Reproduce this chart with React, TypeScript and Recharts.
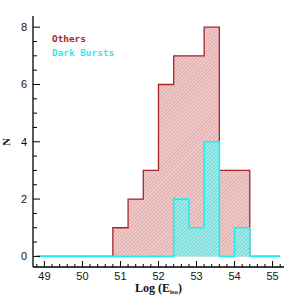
import React from 'react';
import { ComposedChart, Area, XAxis, YAxis } from 'recharts';

// histogram bin edges (log E_iso) and counts per bin starting at that edge
const binEdges = [48.8, 49.2, 49.6, 50.0, 50.4, 50.8, 51.2, 51.6, 52.0, 52.4, 52.8, 53.2, 53.6, 54.0, 54.4, 54.8, 55.2];
const othersCounts = [0, 0, 0, 0, 0, 1, 2, 3, 6, 7, 7, 8, 3, 3, 0, 0, 0];
const darkCounts = [0, 0, 0, 0, 0, 0, 0, 0, 0, 2, 1, 4, 0, 1, 0, 0, 0];

const xMajor = [49, 50, 51, 52, 53, 54, 55];
const yMajor = [0, 2, 4, 6, 8];

const X_DOMAIN: [number, number] = [48.7, 55.3];
const Y_DOMAIN: [number, number] = [-0.37, 8.39];

const RED = '#a82626';
const CYAN = '#1fefef';

const data = binEdges.map((x, i) => ({ x, others: othersCounts[i], dark: darkCounts[i] }));

// minor ticks: every 0.2 in x, every 0.5 in y
const xTicks: number[] = [];
for (let i = 0; i <= 32; i++) xTicks.push(Math.round((48.8 + i * 0.2) * 10) / 10);
const yTicks: number[] = [];
for (let i = 0; i <= 16; i++) yTicks.push(i * 0.5);

const isMajor = (v: number, list: number[]) => list.some((m) => Math.abs(m - v) < 1e-6);

const labelFont = { fontFamily: '"Liberation Sans", Arial, sans-serif', fontSize: 11, fill: '#111' };

const BottomTick = ({ x, y, payload }: any) => {
  const major = isMajor(payload.value, xMajor);
  return (
    <g>
      <line x1={x} x2={x} y1={y} y2={y - (major ? 6 : 3)} stroke="#000" strokeWidth={1} />
      {major && (
        <text x={x} y={y + 13} textAnchor="middle" {...labelFont}>
          {Math.round(payload.value)}
        </text>
      )}
    </g>
  );
};

const TopTick = ({ x, y, payload }: any) => {
  const major = isMajor(payload.value, xMajor);
  return <line x1={x} x2={x} y1={y} y2={y + (major ? 6 : 3)} stroke="#000" strokeWidth={1} />;
};

const LeftTick = ({ x, y, payload }: any) => {
  const major = isMajor(payload.value, yMajor);
  return (
    <g>
      <line x1={x} x2={x + (major ? 7 : 4)} y1={y} y2={y} stroke="#000" strokeWidth={1} />
      {major && (
        <text x={x - 6} y={y + 4} textAnchor="end" {...labelFont}>
          {Math.round(payload.value)}
        </text>
      )}
    </g>
  );
};

const RightTick = ({ x, y, payload }: any) => {
  const major = isMajor(payload.value, yMajor);
  return <line x1={x} x2={x - (major ? 7 : 4)} y1={y} y2={y} stroke="#000" strokeWidth={1} />;
};

const axisLine = { stroke: '#000', strokeWidth: 1.3 };

export default function App() {
  return (
    <div style={{ position: 'absolute', left: 0, top: 0, width: 300, height: 300, background: '#fff' }}>
      <ComposedChart width={300} height={300} data={data} margin={{ top: 16, right: 16, bottom: 0, left: 0 }}>
        <defs>
          <pattern id="hatchRed" width="2.6" height="2.6" patternUnits="userSpaceOnUse" patternTransform="rotate(45)">
            <rect width="2.6" height="2.6" fill="#f0cccc" />
            <line x1="0" y1="0" x2="0" y2="2.6" stroke="#d29090" strokeWidth="1.1" />
          </pattern>
          <pattern id="hatchCyan" width="2.6" height="2.6" patternUnits="userSpaceOnUse" patternTransform="rotate(45)">
            <rect width="2.6" height="2.6" fill="#a4eded" />
            <line x1="0" y1="0" x2="0" y2="2.6" stroke="#55c2c2" strokeWidth="1.1" />
          </pattern>
        </defs>
        <XAxis
          dataKey="x"
          type="number"
          domain={X_DOMAIN}
          ticks={xTicks}
          interval={0}
          height={33}
          tickSize={0}
          tickMargin={0}
          tickLine={false}
          axisLine={axisLine}
          tick={<BottomTick />}
          allowDataOverflow
        />
        <XAxis
          xAxisId="top"
          dataKey="x"
          type="number"
          orientation="top"
          domain={X_DOMAIN}
          ticks={xTicks}
          interval={0}
          height={0}
          tickSize={0}
          tickMargin={0}
          tickLine={false}
          axisLine={axisLine}
          tick={<TopTick />}
          allowDataOverflow
        />
        <YAxis
          type="number"
          domain={Y_DOMAIN}
          ticks={yTicks}
          interval={0}
          width={33}
          tickSize={0}
          tickMargin={0}
          tickLine={false}
          axisLine={axisLine}
          tick={<LeftTick />}
          allowDataOverflow
        />
        <YAxis
          yAxisId="right"
          type="number"
          orientation="right"
          domain={Y_DOMAIN}
          ticks={yTicks}
          interval={0}
          width={0}
          tickSize={0}
          tickMargin={0}
          tickLine={false}
          axisLine={axisLine}
          tick={<RightTick />}
          allowDataOverflow
        />
        <Area
          type="stepAfter"
          dataKey="others"
          stroke={RED}
          strokeWidth={1.3}
          fill="url(#hatchRed)"
          fillOpacity={1}
          baseValue={0}
          dot={false}
          activeDot={false}
          isAnimationActive={false}
        />
        <Area
          type="stepAfter"
          dataKey="dark"
          stroke={CYAN}
          strokeWidth={1.6}
          fill="url(#hatchCyan)"
          fillOpacity={1}
          baseValue={0}
          dot={false}
          activeDot={false}
          isAnimationActive={false}
        />
      </ComposedChart>
      <div
        style={{
          position: 'absolute', left: 52, top: 33, lineHeight: '12px', color: RED,
          fontFamily: '"DejaVu Sans Mono", monospace', fontSize: 9.4, fontWeight: 'bold',
        }}
      >
        Others
      </div>
      <div
        style={{
          position: 'absolute', left: 52, top: 47, lineHeight: '12px', color: CYAN,
          fontFamily: '"DejaVu Sans Mono", monospace', fontSize: 9.4, fontWeight: 'bold',
        }}
      >
        Dark Bursts
      </div>
      <div
        style={{
          position: 'absolute', left: 0, width: 317, top: 282, height: 12, textAlign: 'center', lineHeight: '12px',
          fontFamily: '"Liberation Serif", "Times New Roman", serif', fontSize: 12, fontWeight: 'bold', color: '#111',
        }}
      >
        Log (E<span style={{ fontSize: 7, position: 'relative', top: 2 }}>iso</span>)
      </div>
      <div
        style={{
          position: 'absolute', left: 0, top: 135, width: 12, height: 14, lineHeight: '14px', textAlign: 'center',
          transform: 'rotate(-90deg)',
          fontFamily: '"Liberation Serif", "Times New Roman", serif', fontSize: 11, fontWeight: 'bold', color: '#111',
        }}
      >
        N
      </div>
    </div>
  );
}
